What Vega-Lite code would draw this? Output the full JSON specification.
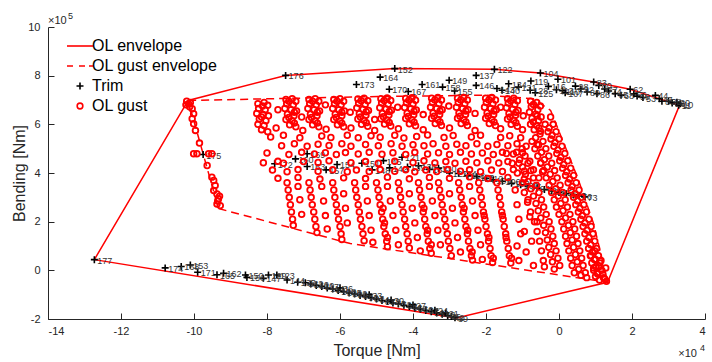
{
"$schema":"https://vega.github.io/schema/vega-lite/v6.json",
"width":657,"height":292,
"autosize":{"type":"none"},
"padding":{"left":48,"top":27,"right":7,"bottom":43},
"background":"white",
"config":{"view":{"stroke":null},"font":"Liberation Sans","axis":{"grid":false,"ticks":true,"domainColor":"#262626","tickColor":"#262626","labelColor":"#262626","titleColor":"#262626","labelFont":"Liberation Sans","titleFont":"Liberation Sans","labelFontSize":11,"titleFontSize":16,"titleFontWeight":"normal","tickSize":-6,"domainWidth":1,"tickWidth":1},
"legend":{"title":null,"orient":"none","legendX":24,"legendY":11,"padding":0,"labelFont":"Liberation Sans","labelFontSize":16,"labelColor":"#000000","symbolSize":100,"symbolStrokeWidth":1.6,"rowPadding":4,"labelOffset":4}},
"datasets":{
"env":[{"torque":-12.73,"bending":0.44,"order":1},{"torque":-10.16,"bending":6.98,"order":2},{"torque":-7.49,"bending":8.01,"order":3},{"torque":-4.5,"bending":8.29,"order":4},{"torque":-1.77,"bending":8.26,"order":5},{"torque":-0.51,"bending":8.11,"order":6},{"torque":0.95,"bending":7.74,"order":7},{"torque":1.95,"bending":7.44,"order":8},{"torque":3.3,"bending":6.78,"order":9},{"torque":1.33,"bending":-0.49,"order":10},{"torque":-2.81,"bending":-1.96,"order":11},{"torque":-12.73,"bending":0.44,"order":12}],
"genv":[{"torque":-10.16,"bending":6.98,"order":1},{"torque":-5.4,"bending":7.13,"order":2},{"torque":-2.0,"bending":7.2,"order":3},{"torque":-0.7,"bending":7.05,"order":4},{"torque":-0.23,"bending":6.57,"order":5},{"torque":0.51,"bending":3.81,"order":6},{"torque":0.95,"bending":1.91,"order":7},{"torque":1.33,"bending":-0.49,"order":8},{"torque":-5.72,"bending":1.1,"order":9},{"torque":-9.33,"bending":2.54,"order":10},{"torque":-10.16,"bending":6.98,"order":11}],
"trim":[
{"torque":-7.49,"bending":8.01,"label":"176"},{"torque":-4.5,"bending":8.29,"label":"152"},{"torque":-5.55,"bending":7.64,"label":"173"},{"torque":-4.9,"bending":7.94,"label":"164"},{"torque":-4.65,"bending":7.44,"label":"170"},{"torque":-4.13,"bending":7.35,"label":"167"},{"torque":-3.75,"bending":7.64,"label":"161"},{"torque":-3.01,"bending":7.81,"label":"149"},{"torque":-3.19,"bending":7.53,"label":"158"},{"torque":-2.86,"bending":7.37,"label":"155"},{"torque":-2.27,"bending":8.01,"label":"137"},{"torque":-2.27,"bending":7.6,"label":"146"},{"torque":-1.77,"bending":8.26,"label":"122"},{"torque":-1.7,"bending":7.47,"label":"143"},{"torque":-1.56,"bending":7.4,"label":"140"},{"torque":-1.38,"bending":7.67,"label":"134"},{"torque":-1.11,"bending":7.53,"label":"131"},{"torque":-0.79,"bending":7.4,"label":"128"},{"torque":-0.77,"bending":7.78,"label":"119"},{"torque":-0.65,"bending":7.3,"label":"125"},{"torque":-0.51,"bending":8.11,"label":"104"},{"torque":-0.29,"bending":7.56,"label":"116"},{"torque":-0.07,"bending":7.42,"label":"113"},{"torque":-0.03,"bending":7.85,"label":"101"},{"torque":0.17,"bending":7.3,"label":"107"},{"torque":0.1,"bending":7.38,"label":"110"},{"torque":0.45,"bending":7.57,"label":"98"},{"torque":0.6,"bending":7.45,"label":"92"},{"torque":0.77,"bending":7.33,"label":"89"},{"torque":0.95,"bending":7.74,"label":"83"},{"torque":1.04,"bending":7.26,"label":"86"},{"torque":1.09,"bending":7.6,"label":"80"},{"torque":1.25,"bending":7.45,"label":"77"},{"torque":1.36,"bending":7.37,"label":"74"},{"torque":1.54,"bending":7.26,"label":"65"},{"torque":1.7,"bending":7.2,"label":"68"},{"torque":1.95,"bending":7.44,"label":"62"},{"torque":2.05,"bending":7.25,"label":"56"},{"torque":2.14,"bending":7.16,"label":"59"},{"torque":2.3,"bending":7.1,"label":"53"},{"torque":2.64,"bending":7.19,"label":"44"},{"torque":2.75,"bending":7.05,"label":"47"},{"torque":2.82,"bending":6.95,"label":"35"},{"torque":3.0,"bending":6.95,"label":"38"},{"torque":3.1,"bending":6.88,"label":"26"},{"torque":3.23,"bending":6.91,"label":"20"},{"torque":3.32,"bending":6.85,"label":"10"},{"torque":3.28,"bending":6.78,"label":"11"},
{"torque":-9.75,"bending":4.76,"label":"175"},{"torque":-7.79,"bending":4.38,"label":"172"},{"torque":-7.22,"bending":4.58,"label":"160"},{"torque":-6.9,"bending":4.79,"label":"169"},{"torque":-6.9,"bending":4.27,"label":"163"},{"torque":-6.38,"bending":4.13,"label":"157"},{"torque":-6.08,"bending":4.35,"label":"154"},{"torque":-5.4,"bending":4.4,"label":"151"},{"torque":-5.12,"bending":4.13,"label":"148"},{"torque":-4.81,"bending":4.51,"label":"145"},{"torque":-4.64,"bending":4.21,"label":"142"},{"torque":-4.3,"bending":4.65,"label":"121"},{"torque":-4.15,"bending":4.25,"label":"139"},{"torque":-3.85,"bending":4.3,"label":"136"},{"torque":-3.55,"bending":4.15,"label":"133"},{"torque":-3.3,"bending":4.2,"label":"130"},{"torque":-3.0,"bending":4.0,"label":"127"},{"torque":-2.75,"bending":3.98,"label":"124"},{"torque":-2.5,"bending":3.9,"label":"118"},{"torque":-2.25,"bending":3.85,"label":"115"},{"torque":-2.0,"bending":3.78,"label":"112"},{"torque":-1.8,"bending":3.72,"label":"109"},{"torque":-1.55,"bending":3.66,"label":"106"},{"torque":-1.3,"bending":3.58,"label":"103"},{"torque":-1.05,"bending":3.52,"label":"100"},{"torque":-0.85,"bending":3.45,"label":"97"},{"torque":-0.6,"bending":3.38,"label":"94"},{"torque":-0.4,"bending":3.32,"label":"91"},{"torque":-0.2,"bending":3.26,"label":"88"},{"torque":0.0,"bending":3.2,"label":"85"},{"torque":0.2,"bending":3.15,"label":"82"},{"torque":0.4,"bending":3.1,"label":"79"},{"torque":0.55,"bending":3.06,"label":"76"},{"torque":0.7,"bending":3.02,"label":"73"},
{"torque":-12.73,"bending":0.44,"label":"177"},{"torque":-10.79,"bending":0.1,"label":"174"},{"torque":-10.35,"bending":0.16,"label":"168"},{"torque":-10.1,"bending":0.22,"label":"153"},{"torque":-9.9,"bending":-0.08,"label":"171"},{"torque":-9.37,"bending":-0.18,"label":"165"},{"torque":-9.19,"bending":-0.12,"label":"162"},{"torque":-8.59,"bending":-0.19,"label":"150"},{"torque":-8.55,"bending":-0.29,"label":"156"},{"torque":-8.1,"bending":-0.33,"label":"147"},{"torque":-7.96,"bending":-0.19,"label":"129"},{"torque":-7.73,"bending":-0.19,"label":"123"},{"torque":-7.45,"bending":-0.4,"label":"144"},{"torque":-7.16,"bending":-0.49,"label":"135"},
{"torque":-6.95,"bending":-0.51,"label":"132"},{"torque":-6.8,"bending":-0.56,"label":"126"},{"torque":-6.65,"bending":-0.62,"label":"120"},{"torque":-6.5,"bending":-0.66,"label":"117"},{"torque":-6.35,"bending":-0.73,"label":"114"},{"torque":-6.2,"bending":-0.77,"label":"111"},{"torque":-6.05,"bending":-0.83,"label":"108"},{"torque":-5.9,"bending":-0.87,"label":"105"},{"torque":-5.75,"bending":-0.93,"label":"102"},{"torque":-5.6,"bending":-0.97,"label":"99"},{"torque":-5.45,"bending":-1.03,"label":"96"},{"torque":-5.3,"bending":-1.08,"label":"90"},{"torque":-5.15,"bending":-1.13,"label":"87"},{"torque":-5.0,"bending":-1.18,"label":"84"},{"torque":-4.85,"bending":-1.24,"label":"81"},{"torque":-4.7,"bending":-1.28,"label":"78"},{"torque":-4.55,"bending":-1.34,"label":"75"},{"torque":-4.4,"bending":-1.38,"label":"72"},{"torque":-4.25,"bending":-1.44,"label":"69"},{"torque":-4.1,"bending":-1.49,"label":"66"},{"torque":-3.95,"bending":-1.55,"label":"63"},{"torque":-3.8,"bending":-1.59,"label":"60"},{"torque":-3.65,"bending":-1.65,"label":"57"},{"torque":-3.5,"bending":-1.7,"label":"54"},{"torque":-3.35,"bending":-1.75,"label":"51"},{"torque":-3.2,"bending":-1.8,"label":"48"},{"torque":-3.05,"bending":-1.86,"label":"45"},{"torque":-2.95,"bending":-1.9,"label":"42"},{"torque":-2.85,"bending":-1.95,"label":"39"},
{"torque":-6.0,"bending":-0.72,"label":"36"},{"torque":-5.2,"bending":-1.0,"label":"33"},{"torque":-4.6,"bending":-1.22,"label":"30"},{"torque":-4.0,"bending":-1.42,"label":"27"},{"torque":-3.4,"bending":-1.64,"label":"24"},{"torque":-3.1,"bending":-1.75,"label":"21"}
],
"gust":[
{"torque":-10.2,"bending":6.95},{"torque":-10.1,"bending":6.9},{"torque":-10.22,"bending":6.8},{"torque":-10.12,"bending":6.72},{"torque":-10.15,"bending":6.85},{"torque":-10.05,"bending":6.64},{"torque":-10.01,"bending":6.44},{"torque":-10.05,"bending":6.23},{"torque":-10.01,"bending":6.02},{"torque":-9.96,"bending":5.75},{"torque":-9.85,"bending":5.23},{"torque":-10.01,"bending":4.79},{"torque":-9.92,"bending":4.79},{"torque":-9.6,"bending":4.79},{"torque":-9.51,"bending":4.79},{"torque":-9.64,"bending":4.31},{"torque":-9.51,"bending":3.83},{"torque":-9.46,"bending":3.69},{"torque":-9.42,"bending":3.49},{"torque":-9.46,"bending":3.28},{"torque":-9.37,"bending":3.14},{"torque":-9.33,"bending":2.94},{"torque":-9.37,"bending":2.73},{"torque":-9.28,"bending":2.66},{"torque":-9.35,"bending":2.85},{"torque":-9.3,"bending":3.05},
{"torque":-8.25,"bending":6.85},{"torque":-8.08,"bending":6.9},{"torque":-7.98,"bending":6.78},{"torque":-8.23,"bending":6.65},{"torque":-8.05,"bending":6.6},{"torque":-8.28,"bending":6.45},{"torque":-8.11,"bending":6.4},{"torque":-7.96,"bending":6.35},{"torque":-8.21,"bending":6.22},{"torque":-8.03,"bending":6.15},{"torque":-8.25,"bending":6.0},{"torque":-8.08,"bending":5.95},{"torque":-8.15,"bending":5.78},{"torque":-7.98,"bending":5.7},
{"torque":-7.48,"bending":7.02},{"torque":-7.31,"bending":7.05},{"torque":-7.21,"bending":6.95},{"torque":-7.46,"bending":6.85},{"torque":-7.28,"bending":6.8},{"torque":-7.51,"bending":6.65},{"torque":-7.34,"bending":6.6},{"torque":-7.19,"bending":6.55},{"torque":-7.44,"bending":6.42},{"torque":-7.26,"bending":6.35},{"torque":-7.48,"bending":6.2},{"torque":-7.31,"bending":6.15},{"torque":-7.38,"bending":5.98},{"torque":-7.21,"bending":5.9},
{"torque":-6.85,"bending":7.02},{"torque":-6.68,"bending":7.05},{"torque":-6.58,"bending":6.95},{"torque":-6.83,"bending":6.85},{"torque":-6.65,"bending":6.8},{"torque":-6.88,"bending":6.65},{"torque":-6.71,"bending":6.6},{"torque":-6.56,"bending":6.55},{"torque":-6.81,"bending":6.42},{"torque":-6.63,"bending":6.35},{"torque":-6.85,"bending":6.2},{"torque":-6.68,"bending":6.15},{"torque":-6.75,"bending":5.98},{"torque":-6.58,"bending":5.9},
{"torque":-6.17,"bending":7.02},{"torque":-6.0,"bending":7.05},{"torque":-5.9,"bending":6.95},{"torque":-6.15,"bending":6.85},{"torque":-5.97,"bending":6.8},{"torque":-6.2,"bending":6.65},{"torque":-6.03,"bending":6.6},{"torque":-5.88,"bending":6.55},{"torque":-6.13,"bending":6.42},{"torque":-5.95,"bending":6.35},{"torque":-6.17,"bending":6.2},{"torque":-6.0,"bending":6.15},{"torque":-6.07,"bending":5.98},{"torque":-5.9,"bending":5.9},
{"torque":-5.51,"bending":7.04},{"torque":-5.34,"bending":7.07},{"torque":-5.24,"bending":6.97},{"torque":-5.49,"bending":6.87},{"torque":-5.31,"bending":6.82},{"torque":-5.54,"bending":6.67},{"torque":-5.37,"bending":6.62},{"torque":-5.22,"bending":6.57},{"torque":-5.47,"bending":6.44},{"torque":-5.29,"bending":6.37},{"torque":-5.51,"bending":6.22},{"torque":-5.34,"bending":6.17},{"torque":-5.41,"bending":6.0},{"torque":-5.24,"bending":5.92},
{"torque":-4.88,"bending":7.05},{"torque":-4.71,"bending":7.08},{"torque":-4.61,"bending":6.98},{"torque":-4.86,"bending":6.88},{"torque":-4.68,"bending":6.83},{"torque":-4.91,"bending":6.68},{"torque":-4.74,"bending":6.63},{"torque":-4.59,"bending":6.58},{"torque":-4.84,"bending":6.45},{"torque":-4.66,"bending":6.38},{"torque":-4.88,"bending":6.23},{"torque":-4.71,"bending":6.18},{"torque":-4.78,"bending":6.01},{"torque":-4.61,"bending":5.93},
{"torque":-4.2,"bending":7.06},{"torque":-4.03,"bending":7.09},{"torque":-3.93,"bending":6.99},{"torque":-4.18,"bending":6.89},{"torque":-4.0,"bending":6.84},{"torque":-4.23,"bending":6.69},{"torque":-4.06,"bending":6.64},{"torque":-3.91,"bending":6.59},{"torque":-4.16,"bending":6.46},{"torque":-3.98,"bending":6.39},{"torque":-4.2,"bending":6.24},{"torque":-4.03,"bending":6.19},{"torque":-4.1,"bending":6.02},{"torque":-3.93,"bending":5.94},
{"torque":-3.49,"bending":7.07},{"torque":-3.32,"bending":7.1},{"torque":-3.22,"bending":7.0},{"torque":-3.47,"bending":6.9},{"torque":-3.29,"bending":6.85},{"torque":-3.52,"bending":6.7},{"torque":-3.35,"bending":6.65},{"torque":-3.2,"bending":6.6},{"torque":-3.45,"bending":6.47},{"torque":-3.27,"bending":6.4},{"torque":-3.49,"bending":6.25},{"torque":-3.32,"bending":6.2},{"torque":-3.39,"bending":6.03},{"torque":-3.22,"bending":5.95},
{"torque":-2.78,"bending":7.07},{"torque":-2.61,"bending":7.1},{"torque":-2.51,"bending":7.0},{"torque":-2.76,"bending":6.9},{"torque":-2.58,"bending":6.85},{"torque":-2.81,"bending":6.7},{"torque":-2.64,"bending":6.65},{"torque":-2.49,"bending":6.6},{"torque":-2.74,"bending":6.47},{"torque":-2.56,"bending":6.4},{"torque":-2.78,"bending":6.25},{"torque":-2.61,"bending":6.2},{"torque":-2.68,"bending":6.03},{"torque":-2.51,"bending":5.95},
{"torque":-2.01,"bending":7.07},{"torque":-1.84,"bending":7.1},{"torque":-1.74,"bending":7.0},{"torque":-1.99,"bending":6.9},{"torque":-1.81,"bending":6.85},{"torque":-2.04,"bending":6.7},{"torque":-1.87,"bending":6.65},{"torque":-1.72,"bending":6.6},{"torque":-1.97,"bending":6.47},{"torque":-1.79,"bending":6.4},{"torque":-2.01,"bending":6.25},{"torque":-1.84,"bending":6.2},{"torque":-1.91,"bending":6.03},{"torque":-1.74,"bending":5.95},
{"torque":-1.41,"bending":7.05},{"torque":-1.24,"bending":7.07},{"torque":-1.14,"bending":6.97},{"torque":-1.39,"bending":6.88},{"torque":-1.21,"bending":6.82},{"torque":-1.44,"bending":6.68},{"torque":-1.27,"bending":6.62},{"torque":-1.12,"bending":6.57},{"torque":-1.37,"bending":6.45},{"torque":-1.19,"bending":6.37},{"torque":-1.41,"bending":6.22},{"torque":-1.24,"bending":6.17},{"torque":-1.31,"bending":6.0},{"torque":-1.14,"bending":5.92},
{"torque":-0.78,"bending":6.95},{"torque":-0.61,"bending":6.9},{"torque":-0.51,"bending":6.75},{"torque":-0.76,"bending":6.72},{"torque":-0.58,"bending":6.6},{"torque":-0.81,"bending":6.5},{"torque":-0.64,"bending":6.42},{"torque":-0.49,"bending":6.3},{"torque":-0.74,"bending":6.25},{"torque":-0.56,"bending":6.15},{"torque":-0.78,"bending":6.0},{"torque":-0.61,"bending":5.95},{"torque":-0.68,"bending":5.78},{"torque":-0.51,"bending":5.72},
{"torque":-8.15,"bending":6.3},{"torque":-8.12,"bending":6.75},{"torque":-7.4,"bending":6.95},{"torque":-7.25,"bending":6.5},{"torque":-7.4,"bending":6.28},{"torque":-7.25,"bending":6.05},{"torque":-6.75,"bending":6.95},{"torque":-6.62,"bending":6.5},{"torque":-6.78,"bending":6.28},{"torque":-6.62,"bending":6.05},{"torque":-6.08,"bending":6.95},{"torque":-5.95,"bending":6.5},{"torque":-6.1,"bending":6.28},{"torque":-5.95,"bending":6.05},{"torque":-5.42,"bending":6.97},{"torque":-5.28,"bending":6.52},{"torque":-5.44,"bending":6.3},{"torque":-5.28,"bending":6.07},{"torque":-4.79,"bending":6.98},{"torque":-4.65,"bending":6.53},{"torque":-4.81,"bending":6.31},{"torque":-4.65,"bending":6.08},{"torque":-4.11,"bending":6.99},{"torque":-3.97,"bending":6.54},{"torque":-4.13,"bending":6.32},{"torque":-3.97,"bending":6.09},{"torque":-3.4,"bending":7.0},{"torque":-3.26,"bending":6.55},{"torque":-3.42,"bending":6.33},{"torque":-3.26,"bending":6.1},{"torque":-2.69,"bending":7.0},{"torque":-2.55,"bending":6.55},{"torque":-2.71,"bending":6.33},{"torque":-2.55,"bending":6.1},{"torque":-1.92,"bending":7.0},{"torque":-1.78,"bending":6.55},{"torque":-1.94,"bending":6.33},{"torque":-1.78,"bending":6.1},{"torque":-1.32,"bending":6.97},{"torque":-1.18,"bending":6.5},{"torque":-1.34,"bending":6.3},{"torque":-1.18,"bending":6.07},{"torque":-0.7,"bending":6.82},{"torque":-0.6,"bending":6.35},{"torque":-0.7,"bending":6.1},{"torque":-0.55,"bending":5.85},
{"torque":-7.7,"bending":6.6},{"torque":-7.05,"bending":6.3},{"torque":-6.4,"bending":6.8},{"torque":-5.72,"bending":6.5},{"torque":-5.05,"bending":6.2},{"torque":-4.42,"bending":6.7},{"torque":-3.72,"bending":6.4},{"torque":-3.02,"bending":6.75},{"torque":-2.3,"bending":6.45},{"torque":-1.6,"bending":6.7},{"torque":-0.98,"bending":6.35},{"torque":-7.75,"bending":5.85},{"torque":-7.02,"bending":5.75},{"torque":-6.38,"bending":5.8},{"torque":-5.7,"bending":5.85},{"torque":-5.05,"bending":5.75},{"torque":-4.4,"bending":5.82},{"torque":-3.72,"bending":5.78},{"torque":-3.0,"bending":5.85},{"torque":-2.3,"bending":5.75},{"torque":-1.6,"bending":5.82},{"torque":-1.0,"bending":5.78},
{"torque":-7.9,"bending":5.48},{"torque":-7.55,"bending":5.55},{"torque":-7.1,"bending":5.45},{"torque":-6.5,"bending":5.52},{"torque":-6.25,"bending":5.46},{"torque":-5.8,"bending":5.55},{"torque":-5.5,"bending":5.45},{"torque":-5.15,"bending":5.53},{"torque":-4.9,"bending":5.47},{"torque":-4.5,"bending":5.55},{"torque":-4.25,"bending":5.44},{"torque":-3.9,"bending":5.5},{"torque":-3.6,"bending":5.56},{"torque":-3.15,"bending":5.46},{"torque":-2.9,"bending":5.54},{"torque":-2.4,"bending":5.48},{"torque":-2.15,"bending":5.55},{"torque":-1.6,"bending":5.46},{"torque":-1.35,"bending":5.53},{"torque":-1.05,"bending":5.45},
{"torque":-7.6,"bending":5.12},{"torque":-7.25,"bending":5.2},{"torque":-6.9,"bending":5.1},{"torque":-6.6,"bending":5.18},{"torque":-6.3,"bending":5.13},{"torque":-5.95,"bending":5.2},{"torque":-5.7,"bending":5.1},{"torque":-5.3,"bending":5.17},{"torque":-4.95,"bending":5.12},{"torque":-4.6,"bending":5.2},{"torque":-4.3,"bending":5.1},{"torque":-4.0,"bending":5.16},{"torque":-3.7,"bending":5.12},{"torque":-3.45,"bending":5.2},{"torque":-3.1,"bending":5.1},{"torque":-2.8,"bending":5.18},{"torque":-2.55,"bending":5.12},{"torque":-2.25,"bending":5.2},{"torque":-1.95,"bending":5.1},{"torque":-1.7,"bending":5.17},{"torque":-1.4,"bending":5.12},{"torque":-1.15,"bending":5.2},{"torque":-0.9,"bending":5.1},{"torque":-0.6,"bending":5.17},
{"torque":-8.0,"bending":4.82},{"torque":-7.4,"bending":4.76},{"torque":-7.05,"bending":4.85},{"torque":-6.7,"bending":4.78},{"torque":-6.4,"bending":4.83},{"torque":-6.1,"bending":4.76},{"torque":-5.85,"bending":4.84},{"torque":-5.5,"bending":4.78},{"torque":-5.2,"bending":4.85},{"torque":-4.85,"bending":4.77},{"torque":-4.55,"bending":4.83},{"torque":-4.2,"bending":4.76},{"torque":-3.95,"bending":4.85},{"torque":-3.6,"bending":4.78},{"torque":-3.3,"bending":4.83},{"torque":-3.0,"bending":4.76},{"torque":-2.7,"bending":4.85},{"torque":-2.4,"bending":4.78},{"torque":-2.1,"bending":4.82},{"torque":-1.8,"bending":4.76},{"torque":-1.55,"bending":4.85},{"torque":-1.25,"bending":4.78},{"torque":-1.0,"bending":4.83},
{"torque":-8.1,"bending":4.42},{"torque":-7.7,"bending":4.48},{"torque":-7.55,"bending":4.4},{"torque":-7.0,"bending":4.47},{"torque":-6.6,"bending":4.43},{"torque":-6.3,"bending":4.5},{"torque":-5.7,"bending":4.42},{"torque":-5.3,"bending":4.47},{"torque":-4.95,"bending":4.4},{"torque":-4.5,"bending":4.48},{"torque":-4.0,"bending":4.43},{"torque":-3.7,"bending":4.5},{"torque":-3.4,"bending":4.41},{"torque":-3.1,"bending":4.47},{"torque":-2.85,"bending":4.4},{"torque":-2.55,"bending":4.48},{"torque":-2.25,"bending":4.42},{"torque":-1.95,"bending":4.5},{"torque":-1.65,"bending":4.41},{"torque":-1.4,"bending":4.47},{"torque":-1.1,"bending":4.4},{"torque":-0.8,"bending":4.48},{"torque":-0.5,"bending":4.42},
{"torque":-7.85,"bending":4.12},{"torque":-7.45,"bending":4.05},{"torque":-7.15,"bending":4.14},{"torque":-6.6,"bending":4.07},{"torque":-6.2,"bending":4.13},{"torque":-5.8,"bending":4.05},{"torque":-5.55,"bending":4.12},{"torque":-5.2,"bending":4.06},{"torque":-4.9,"bending":4.14},{"torque":-4.5,"bending":4.07},{"torque":-4.2,"bending":4.13},{"torque":-3.95,"bending":4.05},{"torque":-3.65,"bending":4.12},{"torque":-3.35,"bending":4.06},{"torque":-3.05,"bending":4.14},{"torque":-2.7,"bending":4.07},{"torque":-2.45,"bending":4.13},{"torque":-2.15,"bending":4.05},{"torque":-1.85,"bending":4.12},{"torque":-1.55,"bending":4.06},{"torque":-1.25,"bending":4.14},{"torque":-0.95,"bending":4.07},{"torque":-0.7,"bending":4.13},{"torque":-0.45,"bending":4.05},
{"torque":-7.7,"bending":3.78},{"torque":-7.15,"bending":3.82},{"torque":-6.55,"bending":3.75},{"torque":-5.9,"bending":3.8},{"torque":-5.3,"bending":3.77},{"torque":-4.7,"bending":3.83},{"torque":-4.1,"bending":3.76},{"torque":-3.55,"bending":3.82},{"torque":-3.0,"bending":3.78},{"torque":-2.45,"bending":3.84},{"torque":-1.95,"bending":3.77},{"torque":-1.4,"bending":3.82},{"torque":-0.95,"bending":3.75},{"torque":-0.55,"bending":3.8},
{"torque":-7.45,"bending":3.6},{"torque":-7.42,"bending":3.3},{"torque":-7.39,"bending":3.0},{"torque":-7.36,"bending":2.7},{"torque":-7.33,"bending":2.4},{"torque":-7.3,"bending":2.1},{"torque":-7.28,"bending":1.85},
{"torque":-6.85,"bending":3.6},{"torque":-6.82,"bending":3.3},{"torque":-6.79,"bending":3.0},{"torque":-6.76,"bending":2.7},{"torque":-6.72,"bending":2.4},{"torque":-6.69,"bending":2.1},{"torque":-6.66,"bending":1.8},{"torque":-6.63,"bending":1.55},
{"torque":-6.2,"bending":3.6},{"torque":-6.17,"bending":3.3},{"torque":-6.14,"bending":3.0},{"torque":-6.1,"bending":2.7},{"torque":-6.07,"bending":2.4},{"torque":-6.04,"bending":2.1},{"torque":-6.0,"bending":1.8},{"torque":-5.97,"bending":1.5},{"torque":-5.95,"bending":1.27},
{"torque":-5.6,"bending":3.6},{"torque":-5.57,"bending":3.3},{"torque":-5.54,"bending":3.0},{"torque":-5.5,"bending":2.7},{"torque":-5.47,"bending":2.4},{"torque":-5.44,"bending":2.1},{"torque":-5.4,"bending":1.8},{"torque":-5.37,"bending":1.5},{"torque":-5.34,"bending":1.22},
{"torque":-5.0,"bending":3.6},{"torque":-4.96,"bending":3.3},{"torque":-4.93,"bending":3.0},{"torque":-4.9,"bending":2.7},{"torque":-4.86,"bending":2.4},{"torque":-4.83,"bending":2.1},{"torque":-4.8,"bending":1.8},{"torque":-4.76,"bending":1.5},{"torque":-4.72,"bending":1.2},{"torque":-4.7,"bending":0.97},
{"torque":-4.4,"bending":3.6},{"torque":-4.37,"bending":3.3},{"torque":-4.34,"bending":3.0},{"torque":-4.3,"bending":2.7},{"torque":-4.27,"bending":2.4},{"torque":-4.23,"bending":2.1},{"torque":-4.2,"bending":1.8},{"torque":-4.16,"bending":1.5},{"torque":-4.13,"bending":1.2},{"torque":-4.1,"bending":0.92},
{"torque":-3.85,"bending":3.6},{"torque":-3.82,"bending":3.3},{"torque":-3.78,"bending":3.0},{"torque":-3.75,"bending":2.7},{"torque":-3.72,"bending":2.4},{"torque":-3.68,"bending":2.1},{"torque":-3.65,"bending":1.8},{"torque":-3.61,"bending":1.5},{"torque":-3.58,"bending":1.2},{"torque":-3.54,"bending":0.9},{"torque":-3.5,"bending":0.7},
{"torque":-3.3,"bending":3.6},{"torque":-3.27,"bending":3.3},{"torque":-3.23,"bending":3.0},{"torque":-3.2,"bending":2.7},{"torque":-3.17,"bending":2.4},{"torque":-3.13,"bending":2.1},{"torque":-3.1,"bending":1.8},{"torque":-3.06,"bending":1.5},{"torque":-3.03,"bending":1.2},{"torque":-2.99,"bending":0.9},{"torque":-2.95,"bending":0.6},
{"torque":-2.75,"bending":3.6},{"torque":-2.72,"bending":3.3},{"torque":-2.68,"bending":3.0},{"torque":-2.65,"bending":2.7},{"torque":-2.62,"bending":2.4},{"torque":-2.58,"bending":2.1},{"torque":-2.55,"bending":1.8},{"torque":-2.51,"bending":1.5},{"torque":-2.48,"bending":1.2},{"torque":-2.44,"bending":0.9},{"torque":-2.4,"bending":0.6},{"torque":-2.37,"bending":0.42},
{"torque":-2.2,"bending":3.6},{"torque":-2.17,"bending":3.3},{"torque":-2.13,"bending":3.0},{"torque":-2.1,"bending":2.7},{"torque":-2.07,"bending":2.4},{"torque":-2.03,"bending":2.1},{"torque":-2.0,"bending":1.8},{"torque":-1.96,"bending":1.5},{"torque":-1.93,"bending":1.2},{"torque":-1.89,"bending":0.9},{"torque":-1.86,"bending":0.6},{"torque":-1.82,"bending":0.32},
{"torque":-1.7,"bending":3.6},{"torque":-1.67,"bending":3.3},{"torque":-1.63,"bending":3.0},{"torque":-1.6,"bending":2.7},{"torque":-1.57,"bending":2.4},{"torque":-1.53,"bending":2.1},{"torque":-1.5,"bending":1.8},{"torque":-1.46,"bending":1.5},{"torque":-1.43,"bending":1.2},{"torque":-1.39,"bending":0.9},{"torque":-1.36,"bending":0.6},{"torque":-1.32,"bending":0.3},
{"torque":-4.82,"bending":2.55},{"torque":-4.78,"bending":1.95},{"torque":-4.7,"bending":1.35},{"torque":-3.7,"bending":2.55},{"torque":-3.6,"bending":1.65},{"torque":-3.5,"bending":1.05},{"torque":-2.6,"bending":2.55},{"torque":-2.5,"bending":1.65},{"torque":-2.38,"bending":0.75},{"torque":-2.05,"bending":2.25},{"torque":-1.92,"bending":1.35},{"torque":-1.8,"bending":0.5},{"torque":-1.55,"bending":2.25},{"torque":-1.45,"bending":1.35},{"torque":-1.3,"bending":0.5},{"torque":-1.15,"bending":1.0},{"torque":-1.1,"bending":0.4},{"torque":-0.95,"bending":1.6},{"torque":-0.9,"bending":0.75},{"torque":-0.75,"bending":1.2},{"torque":-0.7,"bending":0.2},{"torque":-0.6,"bending":2.0},
{"torque":-0.23,"bending":6.3},{"torque":-0.16,"bending":6.0},{"torque":-0.08,"bending":5.7},{"torque":0.0,"bending":5.4},{"torque":0.08,"bending":5.1},{"torque":0.16,"bending":4.8},{"torque":0.24,"bending":4.5},{"torque":0.32,"bending":4.2},{"torque":0.4,"bending":3.9},{"torque":0.47,"bending":3.6},{"torque":0.55,"bending":3.3},{"torque":0.62,"bending":3.0},{"torque":0.68,"bending":2.7},{"torque":0.75,"bending":2.4},{"torque":0.82,"bending":2.1},{"torque":0.88,"bending":1.8},{"torque":0.93,"bending":1.5},{"torque":0.98,"bending":1.2},{"torque":1.03,"bending":0.9},{"torque":1.08,"bending":0.6},{"torque":1.12,"bending":0.3},{"torque":1.17,"bending":0.0},{"torque":1.22,"bending":-0.3},{"torque":1.3,"bending":-0.45},
{"torque":-0.27,"bending":5.85},{"torque":-0.19,"bending":5.55},{"torque":-0.11,"bending":5.25},{"torque":-0.03,"bending":4.95},{"torque":0.05,"bending":4.65},{"torque":0.13,"bending":4.35},{"torque":0.21,"bending":4.05},{"torque":0.29,"bending":3.75},{"torque":0.36,"bending":3.45},{"torque":0.44,"bending":3.15},{"torque":0.51,"bending":2.85},{"torque":0.57,"bending":2.55},{"torque":0.64,"bending":2.25},{"torque":0.71,"bending":1.95},{"torque":0.77,"bending":1.65},{"torque":0.82,"bending":1.35},{"torque":0.87,"bending":1.05},{"torque":0.92,"bending":0.75},{"torque":0.97,"bending":0.45},{"torque":1.01,"bending":0.15},{"torque":1.06,"bending":-0.15},{"torque":1.11,"bending":-0.4},
{"torque":-0.38,"bending":6.0},{"torque":-0.3,"bending":5.7},{"torque":-0.22,"bending":5.4},{"torque":-0.14,"bending":5.1},{"torque":-0.06,"bending":4.8},{"torque":0.02,"bending":4.5},{"torque":0.1,"bending":4.2},{"torque":0.18,"bending":3.9},{"torque":0.25,"bending":3.6},{"torque":0.33,"bending":3.3},{"torque":0.4,"bending":3.0},{"torque":0.46,"bending":2.7},{"torque":0.53,"bending":2.4},{"torque":0.6,"bending":2.1},{"torque":0.66,"bending":1.8},{"torque":0.71,"bending":1.5},{"torque":0.76,"bending":1.2},{"torque":0.81,"bending":0.9},{"torque":0.86,"bending":0.6},{"torque":0.9,"bending":0.3},{"torque":0.95,"bending":0.0},{"torque":1.0,"bending":-0.25},
{"torque":-0.52,"bending":5.6},{"torque":-0.44,"bending":5.3},{"torque":-0.36,"bending":5.0},{"torque":-0.28,"bending":4.7},{"torque":-0.2,"bending":4.4},{"torque":-0.12,"bending":4.1},{"torque":-0.05,"bending":3.8},{"torque":0.03,"bending":3.5},{"torque":0.1,"bending":3.2},{"torque":0.17,"bending":2.9},{"torque":0.23,"bending":2.6},{"torque":0.3,"bending":2.3},{"torque":0.38,"bending":2.0},{"torque":0.43,"bending":1.7},{"torque":0.48,"bending":1.4},{"torque":0.52,"bending":1.1},{"torque":0.57,"bending":0.8},{"torque":0.62,"bending":0.5},{"torque":0.66,"bending":0.2},{"torque":0.72,"bending":-0.1},{"torque":0.76,"bending":-0.3},
{"torque":-0.64,"bending":5.45},{"torque":-0.56,"bending":5.15},{"torque":-0.48,"bending":4.85},{"torque":-0.4,"bending":4.55},{"torque":-0.32,"bending":4.25},{"torque":-0.24,"bending":3.95},{"torque":-0.17,"bending":3.65},{"torque":-0.09,"bending":3.35},{"torque":-0.02,"bending":3.05},{"torque":0.05,"bending":2.75},{"torque":0.11,"bending":2.45},{"torque":0.18,"bending":2.15},{"torque":0.26,"bending":1.85},{"torque":0.31,"bending":1.55},{"torque":0.36,"bending":1.25},{"torque":0.4,"bending":0.95},{"torque":0.45,"bending":0.65},{"torque":0.5,"bending":0.35},{"torque":0.54,"bending":0.05},{"torque":0.6,"bending":-0.2},
{"torque":-0.74,"bending":5.3},{"torque":-0.66,"bending":5.0},{"torque":-0.58,"bending":4.7},{"torque":-0.5,"bending":4.4},{"torque":-0.42,"bending":4.1},{"torque":-0.35,"bending":3.8},{"torque":-0.27,"bending":3.5},{"torque":-0.2,"bending":3.2},{"torque":-0.13,"bending":2.9},{"torque":-0.07,"bending":2.6},{"torque":0.0,"bending":2.3},{"torque":0.08,"bending":2.0},{"torque":0.13,"bending":1.7},{"torque":0.18,"bending":1.4},{"torque":0.22,"bending":1.1},{"torque":0.27,"bending":0.8},{"torque":0.32,"bending":0.5},{"torque":0.36,"bending":0.2},{"torque":0.42,"bending":-0.1},
{"torque":-1.01,"bending":5.0},{"torque":-0.93,"bending":4.7},{"torque":-0.85,"bending":4.4},{"torque":-0.77,"bending":4.1},{"torque":-0.7,"bending":3.8},{"torque":-0.62,"bending":3.5},{"torque":-0.55,"bending":3.2},{"torque":-0.48,"bending":2.9},{"torque":-0.42,"bending":2.6},{"torque":-0.35,"bending":2.3},{"torque":-0.27,"bending":2.0},{"torque":-0.22,"bending":1.7},{"torque":-0.17,"bending":1.4},{"torque":-0.13,"bending":1.1},{"torque":-0.08,"bending":0.8},{"torque":-0.03,"bending":0.5},{"torque":0.02,"bending":0.2},
{"torque":-1.16,"bending":4.85},{"torque":-1.08,"bending":4.55},{"torque":-1.0,"bending":4.25},{"torque":-0.92,"bending":3.95},{"torque":-0.85,"bending":3.65},{"torque":-0.77,"bending":3.35},{"torque":-0.7,"bending":3.05},{"torque":-0.63,"bending":2.75},{"torque":-0.57,"bending":2.45},{"torque":-0.5,"bending":2.15},{"torque":-0.42,"bending":1.85},{"torque":-0.37,"bending":1.55},{"torque":-0.32,"bending":1.25},{"torque":-0.28,"bending":0.95},{"torque":-0.23,"bending":0.65},{"torque":-0.18,"bending":0.35},{"torque":-0.13,"bending":0.05},
{"torque":-1.44,"bending":4.8},{"torque":-1.28,"bending":4.4},{"torque":-1.14,"bending":4.0},{"torque":-1.0,"bending":3.6},{"torque":-0.95,"bending":3.2},{"torque":-0.86,"bending":2.8},{"torque":-0.78,"bending":2.4},{"torque":-0.67,"bending":2.0},{"torque":-0.6,"bending":1.6},{"torque":-0.53,"bending":1.2},{"torque":-0.48,"bending":0.8},{"torque":-0.43,"bending":0.4},{"torque":-0.4,"bending":0.15},
{"torque":1.2,"bending":-0.15},{"torque":1.1,"bending":0.15},{"torque":1.0,"bending":0.45},{"torque":1.15,"bending":0.4},{"torque":1.05,"bending":-0.1},{"torque":0.95,"bending":0.1},{"torque":0.88,"bending":0.6},{"torque":0.98,"bending":0.8},{"torque":1.25,"bending":-0.35},{"torque":1.28,"bending":0.1},
{"torque":-7.15,"bending":3.45},{"torque":-7.1,"bending":2.9},{"torque":-7.05,"bending":2.3},{"torque":-6.5,"bending":3.45},{"torque":-6.45,"bending":2.85},{"torque":-6.4,"bending":2.25},{"torque":-6.35,"bending":1.7},{"torque":-5.9,"bending":3.15},{"torque":-5.85,"bending":2.55},{"torque":-5.8,"bending":1.95},{"torque":-5.3,"bending":3.45},{"torque":-5.25,"bending":2.85},{"torque":-5.2,"bending":2.25},{"torque":-5.15,"bending":1.65},{"torque":-5.1,"bending":1.15},{"torque":-4.7,"bending":3.45},{"torque":-4.62,"bending":2.85},{"torque":-4.55,"bending":2.25},{"torque":-4.47,"bending":1.65},{"torque":-4.4,"bending":1.05},{"torque":-4.1,"bending":3.15},{"torque":-4.02,"bending":2.55},{"torque":-3.95,"bending":1.95},{"torque":-3.88,"bending":1.35},{"torque":-3.8,"bending":0.8},{"torque":-3.55,"bending":3.45},{"torque":-3.47,"bending":2.85},{"torque":-3.4,"bending":2.25},{"torque":-3.32,"bending":1.65},{"torque":-3.25,"bending":1.05},{"torque":-3.0,"bending":3.15},{"torque":-2.92,"bending":2.55},{"torque":-2.85,"bending":1.95},{"torque":-2.78,"bending":1.35},{"torque":-2.7,"bending":0.75},{"torque":-2.45,"bending":3.45},{"torque":-2.37,"bending":2.85},{"torque":-2.3,"bending":2.25},{"torque":-2.22,"bending":1.65},{"torque":-2.15,"bending":1.05},{"torque":-2.1,"bending":0.45},{"torque":-1.2,"bending":3.3},{"torque":-1.15,"bending":2.7},{"torque":-1.1,"bending":2.1},{"torque":-1.05,"bending":1.5},{"torque":-0.85,"bending":2.9},{"torque":-0.8,"bending":2.2}
]
},
"layer":[
{"data":{"name":"env"},"mark":{"type":"line","color":"#ff0000","strokeWidth":1.5},"encoding":{"x":{"field":"torque","type":"quantitative","scale":{"domain":[-14,4],"nice":false,"zero":false},"axis":{"values":[-14,-12,-10,-8,-6,-4,-2,0,2,4],"labelExpr":"datum.value + ''","title":"Torque [Nm]","labelPadding":12,"titlePadding":6}},"y":{"field":"bending","type":"quantitative","scale":{"domain":[-2,10],"nice":false,"zero":false},"axis":{"values":[-2,0,2,4,6,8,10],"labelExpr":"datum.value + ''","title":"Bending [Nm]","labelPadding":14,"titlePadding":0}},"order":{"field":"order","type":"quantitative"}}},
{"data":{"name":"genv"},"mark":{"type":"line","color":"#ff0000","strokeWidth":1.5,"strokeDash":[8,5]},"encoding":{"x":{"field":"torque","type":"quantitative"},"y":{"field":"bending","type":"quantitative"},"order":{"field":"order","type":"quantitative"}}},
{"data":{"name":"trim"},"mark":{"type":"point","filled":false,"size":100,"strokeWidth":1.6,"opacity":1},"encoding":{"x":{"field":"torque","type":"quantitative"},"y":{"field":"bending","type":"quantitative"},"color":{"datum":"Trim","scale":{"domain":["OL envelope","OL gust envelope","Trim","OL gust"],"range":["#ff0000","#ff0000","#000000","#ff0000"]}},"shape":{"datum":"Trim","scale":{"domain":["OL envelope","OL gust envelope","Trim","OL gust"],"range":["M-2.6,0L2.6,0","M-2.6,0L-1.4,0M-0.2,0L1.0,0M1.8,0L2.6,0","M-0.7,0L0.7,0M0,-0.7L0,0.7","M0.566,0A0.566,0.566,0,1,1,-0.566,0A0.566,0.566,0,1,1,0.566,0Z"]}}}},
{"data":{"name":"trim"},"mark":{"type":"text","align":"left","baseline":"middle","dx":3,"dy":1,"fontSize":9,"color":"#333333"},"encoding":{"x":{"field":"torque","type":"quantitative"},"y":{"field":"bending","type":"quantitative"},"text":{"field":"label","type":"nominal"}}},
{"data":{"name":"gust"},"mark":{"type":"point","filled":false,"size":100,"strokeWidth":1.8,"opacity":1},"encoding":{"x":{"field":"torque","type":"quantitative"},"y":{"field":"bending","type":"quantitative"},"color":{"datum":"OL gust"},"shape":{"datum":"OL gust"}}},
{"data":{"values":[{}]},"mark":{"type":"text","text":"×10","align":"left","baseline":"alphabetic","dy":-3.5,"fontSize":11,"color":"#262626"},"encoding":{"x":{"datum":-14,"type":"quantitative"},"y":{"datum":10,"type":"quantitative"}}},
{"data":{"values":[{}]},"mark":{"type":"text","text":"5","align":"left","baseline":"alphabetic","dx":20,"dy":-8.5,"fontSize":9,"color":"#262626"},"encoding":{"x":{"datum":-14,"type":"quantitative"},"y":{"datum":10,"type":"quantitative"}}},
{"data":{"values":[{}]},"mark":{"type":"text","text":"×10","align":"right","baseline":"alphabetic","dx":-8,"dy":37.7,"fontSize":11,"color":"#262626"},"encoding":{"x":{"datum":4,"type":"quantitative"},"y":{"datum":-2,"type":"quantitative"}}},
{"data":{"values":[{}]},"mark":{"type":"text","text":"4","align":"right","baseline":"alphabetic","dx":0,"dy":32,"fontSize":9,"color":"#262626"},"encoding":{"x":{"datum":4,"type":"quantitative"},"y":{"datum":-2,"type":"quantitative"}}}
]
}
